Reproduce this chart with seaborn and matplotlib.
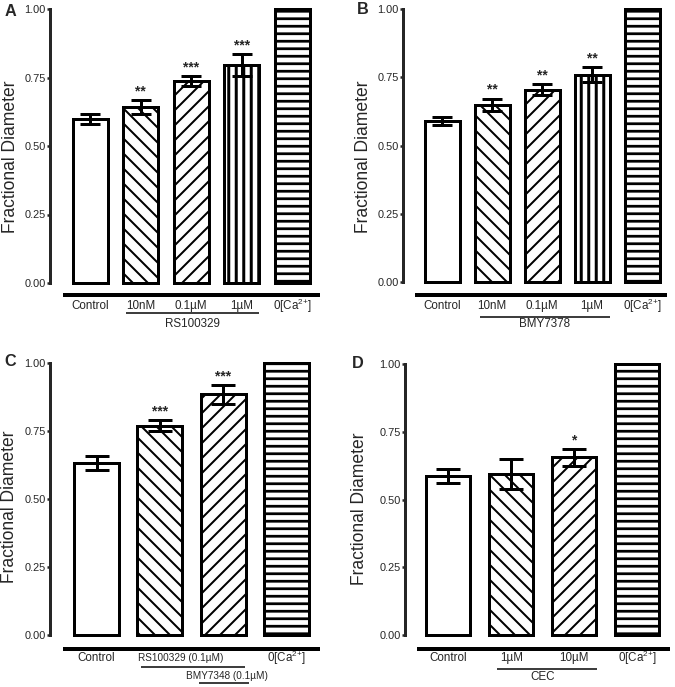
import matplotlib
matplotlib.use("Agg")
import matplotlib.pyplot as plt
import pandas as pd
import seaborn as sns

# ---------------- data ----------------
ca_label = "0[Ca$^{2{+}}$]"

a_conditions = ["Control", "10nM", "0.1µM", "1µM", ca_label]
a_means = [0.600, 0.643, 0.738, 0.797, 1.000]
a_sem = [0.018, 0.025, 0.018, 0.040, 0.0]
a_stars = ["", "**", "***", "***", ""]
a_group = "RS100329"

b_conditions = ["Control", "10nM", "0.1µM", "1µM", ca_label]
b_means = [0.590, 0.650, 0.705, 0.760, 1.000]
b_sem = [0.015, 0.022, 0.020, 0.027, 0.0]
b_stars = ["", "**", "**", "**", ""]
b_group = "BMY7378"

c_conditions = ["Control", "RS100329 (0.1µM)", "BMY7348 (0.1µM)", ca_label]
c_means = [0.633, 0.770, 0.885, 1.000]
c_sem = [0.025, 0.020, 0.035, 0.0]
c_stars = ["", "***", "***", ""]

d_conditions = ["Control", "1µM", "10µM", ca_label]
d_means = [0.587, 0.593, 0.656, 1.000]
d_sem = [0.027, 0.055, 0.031, 0.0]
d_stars = ["", "", "*", ""]
d_group = "CEC"

y_ticks = [0.0, 0.25, 0.5, 0.75, 1.0]
y_tick_labels = ["0.00", "0.25", "0.50", "0.75", "1.00"]
y_title = "Fractional Diameter"

# ---------------- style ----------------
W, H, DPI = 675, 687, 90
sns.set_style("ticks")
plt.rcParams["font.family"] = ["Liberation Sans", "DejaVu Sans"]
plt.rcParams["mathtext.fontset"] = "custom"
plt.rcParams["mathtext.rm"] = "Liberation Sans"
plt.rcParams["mathtext.it"] = "Liberation Sans"
plt.rcParams["mathtext.bf"] = "Liberation Sans:bold"
plt.rcParams["mathtext.default"] = "regular"
plt.rcParams["hatch.color"] = "black"

LW = 2.4  # 3 px at 90 dpi
fig = plt.figure(figsize=(W / DPI, H / DPI), dpi=DPI)
fig.patch.set_facecolor("white")


def px_axes(left, right, top, bottom):
    return fig.add_axes([left / W, 1 - bottom / H, (right - left) / W, (bottom - top) / H])


def ay(ax_box, ypx):
    top, bottom = ax_box
    return -(ypx - bottom) / (bottom - top)


def panel(box, xlim, conds, means, sems, stars, hatches, hatch_lws, width, capsize):
    left, right, top, bottom = box
    ax = px_axes(left, right, top, bottom)
    df = pd.DataFrame({"cond": conds, "mean": means})
    sns.barplot(data=df, x="cond", y="mean", order=conds, color="white",
                edgecolor="black", linewidth=LW, width=width, errorbar=None,
                saturation=1, ax=ax)
    for p, h, hl in zip(ax.patches, hatches, hatch_lws):
        p.set_facecolor("white")
        p.set_hatch(h)
        if hasattr(p, "set_hatch_linewidth"):
            p.set_hatch_linewidth(hl)
        p.set_clip_on(False)
        p.set_zorder(2)
    xs = [i for i, s in enumerate(sems) if s > 0]
    eb = ax.errorbar(xs, [means[i] for i in xs], yerr=[sems[i] for i in xs],
                     fmt="none", ecolor="black", elinewidth=LW, capsize=capsize,
                     capthick=LW, zorder=5)
    for art in eb.get_children():
        art.set_clip_on(False)
    for i, s in enumerate(stars):
        if s:
            ax.text(i, means[i] + sems[i] + 0.006, s, ha="center", va="bottom",
                    fontsize=11, fontweight="bold")
    ax.set_xlim(*xlim)
    ax.set_ylim(0, 1)
    ax.set_yticks(y_ticks)
    ax.set_yticklabels(y_tick_labels)
    ax.tick_params(axis="y", length=2.5, width=2, pad=1, labelsize=8.8, direction="out")
    ax.set_xticks([])
    ax.set_xlabel("")
    ax.set_ylabel("")
    for s in ["top", "right", "bottom"]:
        ax.spines[s].set_visible(False)
    ax.spines["left"].set_linewidth(LW)
    ax.spines["left"].set_bounds(0, 1)
    ax.set_facecolor("none")
    return ax


def hline(ax, box, x0, x1, ypx, lw):
    ax.plot([x0, x1], [ay((box[2], box[3]), ypx)] * 2, color="black", lw=lw,
            transform=ax.get_xaxis_transform(), clip_on=False, solid_capstyle="butt")


def xtext(ax, box, x, ypx, s, size=9.3):
    ax.text(x, ay((box[2], box[3]), ypx), s, ha="center", va="center", fontsize=size,
            transform=ax.get_xaxis_transform())


h5 = ["", "\\\\", "//", "||", "--"]
hl5 = [1.0, 1.6, 1.6, 2.4, 2.2]
h4 = ["", "\\\\", "//", "--"]
hl4 = [1.0, 1.6, 1.6, 2.2]

# ---------------- Panel A ----------------
boxA = (50, 320, 9, 283)
axA = panel(boxA, (-0.8, 4.55), a_conditions, a_means, a_sem, a_stars, h5, hl5, 0.69, 8)
hline(axA, boxA, -0.543, 4.55, 295, 3.2)
for i, c in enumerate(a_conditions):
    xtext(axA, boxA, i, 306, c)
hline(axA, boxA, 0.705, 3.34, 313, 1.2)
xtext(axA, boxA, 2.02, 324, a_group)
fig.text(10 / W, 1 - 11.5 / H, "A", ha="center", va="center", fontsize=13, fontweight="bold")
fig.text(11 / W, 1 - 157 / H, y_title, ha="center", va="center", rotation=90, fontsize=14)

# ---------------- Panel B ----------------
boxB = (403, 667, 9, 282)
axB = panel(boxB, (-0.78, 4.5), b_conditions, b_means, b_sem, b_stars, h5, hl5, 0.7, 8)
hline(axB, boxB, -0.54, 4.5, 295, 3.2)
for i, c in enumerate(b_conditions):
    xtext(axB, boxB, i, 306, c)
hline(axB, boxB, 0.76, 3.36, 317, 1.2)
xtext(axB, boxB, 2.06, 324, b_group)
fig.text(363 / W, 1 - 10 / H, "B", ha="center", va="center", fontsize=13, fontweight="bold")
fig.text(363.5 / W, 1 - 157 / H, y_title, ha="center", va="center", rotation=90, fontsize=14)

# ---------------- Panel C ----------------
boxC = (50, 320, 363, 635)
axC = panel(boxC, (-0.735, 3.53), c_conditions, c_means, c_sem, c_stars, h4, hl4, 0.71, 9.6)
hline(axC, boxC, -0.53, 3.53, 649, 3.2)
xtext(axC, boxC, 0, 658, c_conditions[0])
xtext(axC, boxC, 3, 658, c_conditions[3])
xtext(axC, boxC, 1.33, 658, c_conditions[1], size=8)
hline(axC, boxC, 0.70, 2.35, 667, 1.2)
xtext(axC, boxC, 2.06, 676, c_conditions[2], size=8)
hline(axC, boxC, 1.62, 2.41, 683, 1.2)
fig.text(10 / W, 1 - 362 / H, "C", ha="center", va="center", fontsize=13, fontweight="bold")
fig.text(9.5 / W, 1 - 507 / H, y_title, ha="center", va="center", rotation=90, fontsize=14)

# ---------------- Panel D ----------------
boxD = (405, 670, 364, 635)
axD = panel(boxD, (-0.69, 3.52), d_conditions, d_means, d_sem, d_stars, h4, hl4, 0.7, 9.6)
hline(axD, boxD, -0.5, 3.52, 649, 3.2)
for i, c in enumerate(d_conditions):
    xtext(axD, boxD, i, 658, c)
hline(axD, boxD, 0.77, 2.36, 669, 1.2)
xtext(axD, boxD, 1.5, 677, d_group)
fig.text(358 / W, 1 - 363.5 / H, "D", ha="center", va="center", fontsize=13, fontweight="bold")
fig.text(360 / W, 1 - 509 / H, y_title, ha="center", va="center", rotation=90, fontsize=14)

fig.savefig("out.png", dpi=DPI, facecolor="white")
